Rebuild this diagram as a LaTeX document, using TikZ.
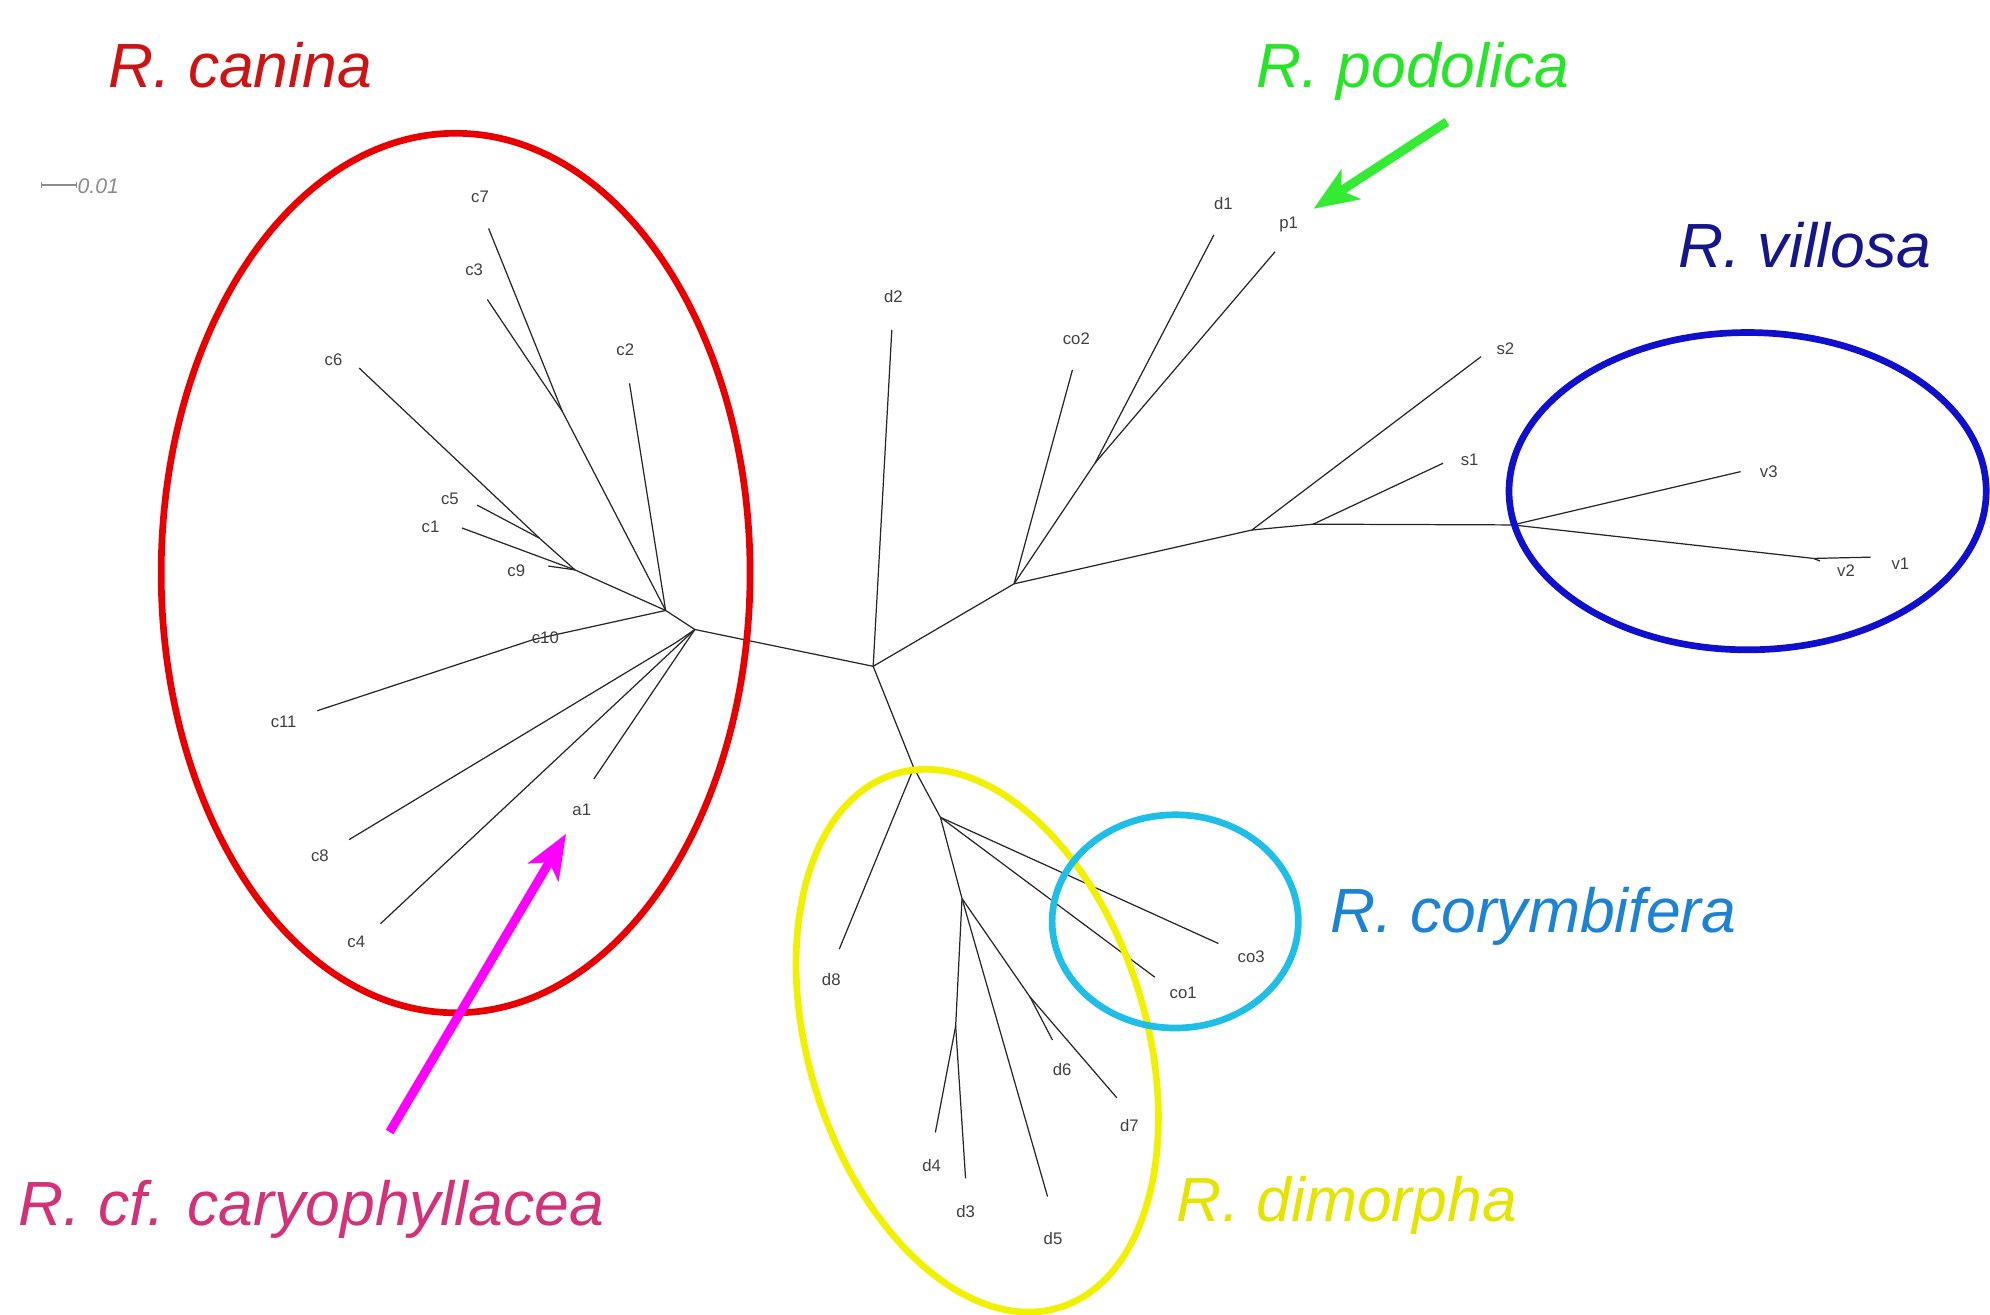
\documentclass[tikz,border=0pt]{standalone}
\usepackage{fontspec}
\setmainfont{Liberation Sans}
\usetikzlibrary{arrows.meta}
\definecolor{canred}{RGB}{205,20,20}
\definecolor{ellred}{RGB}{232,0,0}
\definecolor{podgreen}{RGB}{40,228,40}
\definecolor{arrgreen}{RGB}{50,235,50}
\definecolor{vilnavy}{RGB}{22,22,140}
\definecolor{ellblue}{RGB}{15,15,205}
\definecolor{cortext}{RGB}{30,130,210}
\definecolor{ellcyan}{RGB}{30,190,230}
\definecolor{dimyel}{RGB}{228,228,0}
\definecolor{ellyel}{RGB}{240,240,0}
\definecolor{cartext}{RGB}{210,50,120}
\definecolor{arrmag}{RGB}{255,0,255}
\begin{document}
\begin{tikzpicture}[x=0.02cm,y=-0.02cm,
  branch/.style={draw=black!85, line width=0.55pt},
  tiplab/.style={font=\fontsize{7.5}{9}\selectfont, text=black!75, inner sep=0pt},
  title/.style={font=\fontsize{28}{32}\selectfont\itshape, inner sep=0pt, anchor=base west},
  ring/.style={line width=3pt},
  pointer/.style={line width=4pt, -{Stealth[length=0.7cm,width=0.55cm,inset=0.18cm]}}]
\useasboundingbox (0,0) rectangle (1568,1036);

% ---- tree coordinates ----
\coordinate (A) at (688,525);
\coordinate (B) at (547.5,496);
\coordinate (B2) at (524.5,481);
\coordinate (W) at (533,506);
\coordinate (X1) at (443,324);
\coordinate (c7t) at (385,180);
\coordinate (c3t) at (384,236);
\coordinate (c2t) at (496,302);
\coordinate (Y) at (453,449);
\coordinate (Z) at (425,424);
\coordinate (c6t) at (283,290);
\coordinate (c5t) at (376,398);
\coordinate (c1t) at (364,416);
\coordinate (c9t) at (432,446);
\coordinate (c10n) at (420,504);
\coordinate (c11t) at (250,560);
\coordinate (c8t) at (275,661.6);
\coordinate (c4t) at (299.8,727.8);
\coordinate (a1t) at (467.9,613.8);
\coordinate (d2t) at (702.7,260);
\coordinate (C) at (799,460);
\coordinate (co2t) at (845,291.5);
\coordinate (N1) at (863,364.6);
\coordinate (d1t) at (956.5,185);
\coordinate (p1t) at (1004.7,198.3);
\coordinate (D) at (986.4,417.6);
\coordinate (s2t) at (1167,281);
\coordinate (E) at (1034.7,413);
\coordinate (s1t) at (1137,365);
\coordinate (F) at (1192,413.6);
\coordinate (v3t) at (1371.5,371.6);
\coordinate (v2n) at (1429,440);
\coordinate (v2t) at (1434,442);
\coordinate (v1t) at (1474,439);
\coordinate (G) at (720,605);
\coordinate (d8t) at (661.3,747.8);
\coordinate (H) at (741,644);
\coordinate (co3t) at (960,743.4);
\coordinate (co1t) at (910,770);
\coordinate (I) at (758,708);
\coordinate (J) at (753,808.5);
\coordinate (d4t) at (737,892.3);
\coordinate (d3t) at (760.8,928.4);
\coordinate (d5t) at (825.4,942.8);
\coordinate (K) at (811.5,785.4);
\coordinate (d6t) at (829.3,819.5);
\coordinate (d7t) at (880,865);

% ---- branches ----
\draw[branch] (A) -- (B);
\draw[branch] (B) -- (B2);
\draw[branch] (B2) -- (X1);
\draw[branch] (X1) -- (c7t);
\draw[branch] (X1) -- (c3t);
\draw[branch] (B2) -- (c2t);
\draw[branch] (B2) -- (Y);
\draw[branch] (Y) -- (Z);
\draw[branch] (Z) -- (c6t);
\draw[branch] (Z) -- (c5t);
\draw[branch] (Y) -- (c1t);
\draw[branch] (Y) -- (c9t);
\draw[branch] (B2) -- (c10n);
\draw[branch] (c10n) -- (c11t);
\draw[branch] (B) -- (W);
\draw[branch] (W) -- (c8t);
\draw[branch] (B) -- (c4t);
\draw[branch] (B) -- (a1t);
\draw[branch] (A) -- (d2t);
\draw[branch] (A) -- (C);
\draw[branch] (C) -- (co2t);
\draw[branch] (C) -- (N1);
\draw[branch] (N1) -- (d1t);
\draw[branch] (N1) -- (p1t);
\draw[branch] (C) -- (D);
\draw[branch] (D) -- (s2t);
\draw[branch] (D) -- (E);
\draw[branch] (E) -- (s1t);
\draw[branch] (E) -- (F);
\draw[branch] (F) -- (v3t);
\draw[branch] (F) -- (v2n);
\draw[branch] (v2n) -- (v2t);
\draw[branch] (v2n) -- (v1t);
\draw[branch] (A) -- (G);
\draw[branch] (G) -- (d8t);
\draw[branch] (G) -- (H);
\draw[branch] (H) -- (co3t);
\draw[branch] (H) -- (co1t);
\draw[branch] (H) -- (I);
\draw[branch] (I) -- (J);
\draw[branch] (J) -- (d4t);
\draw[branch] (J) -- (d3t);
\draw[branch] (I) -- (d5t);
\draw[branch] (I) -- (K);
\draw[branch] (K) -- (d7t);
\draw[branch] (K) -- (d6t);

% ---- tip labels ----
\node[tiplab] (lc7) at (378.2,155) {c7};
\node[tiplab] (lc3) at (373.6,212.7) {c3};
\node[tiplab] (lc2) at (492.7,275.8) {c2};
\node[tiplab] (lc6) at (262.8,283.7) {c6};
\node[tiplab] (lc5) at (354.5,392.7) {c5};
\node[tiplab] (lc1) at (339.2,414.9) {c1};
\node[tiplab] (lc9) at (406.8,449.7) {c9};
\node[tiplab] (lc10) at (429.7,502.2) {c10};
\node[tiplab] (lc11) at (223.5,568.7) {c11};
\node[tiplab] (lc8) at (252.1,674.3) {c8};
\node[tiplab] (lc4) at (280.7,741.8) {c4};
\node[tiplab] (la1) at (458.4,638.2) {a1};
\node[tiplab] (ld2) at (704,233.8) {d2};
\node[tiplab] (lco2) at (848.1,266.6) {co2};
\node[tiplab] (ld1) at (963.9,160.2) {d1};
\node[tiplab] (lp1) at (1015.4,176.5) {p1};
\node[tiplab] (ls2) at (1186.2,274.5) {s2};
\node[tiplab] (ls1) at (1158,362.5) {s1};
\node[tiplab] (lv3) at (1393.7,371.6) {v3};
\node[tiplab] (lv2) at (1454.5,449.6) {v2};
\node[tiplab] (lv1) at (1497.4,444) {v1};
\node[tiplab] (ld8) at (655,772) {d8};
\node[tiplab] (lco3) at (985.8,753.6) {co3};
\node[tiplab] (lco1) at (932.3,782.5) {co1};
\node[tiplab] (ld6) at (836.9,842.6) {d6};
\node[tiplab] (ld7) at (889.9,886.7) {d7};
\node[tiplab] (ld4) at (734,918) {d4};
\node[tiplab] (ld3) at (760.8,954.4) {d3};
\node[tiplab] (ld5) at (829.7,976.1) {d5};

% ---- scale bar ----
\coordinate (sb1) at (32.8,145.8);
\coordinate (sb2) at (60.4,145.8);
\draw[black!45, line width=0.6pt] (sb1) -- (sb2);
\draw[black!45, line width=0.6pt] ([yshift=-1.2pt]sb1) -- ([yshift=1.2pt]sb1);
\draw[black!45, line width=0.6pt] ([yshift=-1.2pt]sb2) -- ([yshift=1.2pt]sb2);
\node[font=\fontsize{9.5}{11}\selectfont\itshape, text=black!45, inner sep=0pt, anchor=base west] (sbl) at (60.8,152.5) {0.01};

% ---- group ellipses ----
\draw[ring, draw=ellred] (359,451.5) ellipse [x radius=232, y radius=346.5];
\draw[ring, draw=ellblue] (1377,387) ellipse [x radius=188, y radius=125];
\draw[ring, draw=ellyel, rotate around={17.2:(770,820)}] (770,820) ellipse [x radius=133, y radius=220];
\draw[ring, draw=ellcyan] (926,726) ellipse [x radius=97, y radius=84];

% ---- arrows ----
\coordinate (gtail) at (1140,96);
\coordinate (gtip) at (1035,164.5);
\coordinate (mtail) at (307,892);
\coordinate (mtip) at (446,657);
\draw[pointer, draw=arrgreen, fill=arrgreen] (gtail) -- (gtip);
\draw[pointer, draw=arrmag, fill=arrmag] (mtail) -- (mtip);

% ---- species names ----
\node[title, text=canred] (tcan) at (85,69) {R. canina};
\node[title, text=podgreen] (tpod) at (990,69) {R. podolica};
\node[title, text=vilnavy] (tvil) at (1322,211) {R. villosa};
\node[title, text=cortext] (tcor) at (1048,735) {R. corymbifera};
\node[title, text=dimyel] (tdim) at (927,962.6) {R. dimorpha};
\node[title, text=cartext] (tcar) at (14.5,965.5) {R. cf. caryophyllacea};
\end{tikzpicture}
\end{document}
